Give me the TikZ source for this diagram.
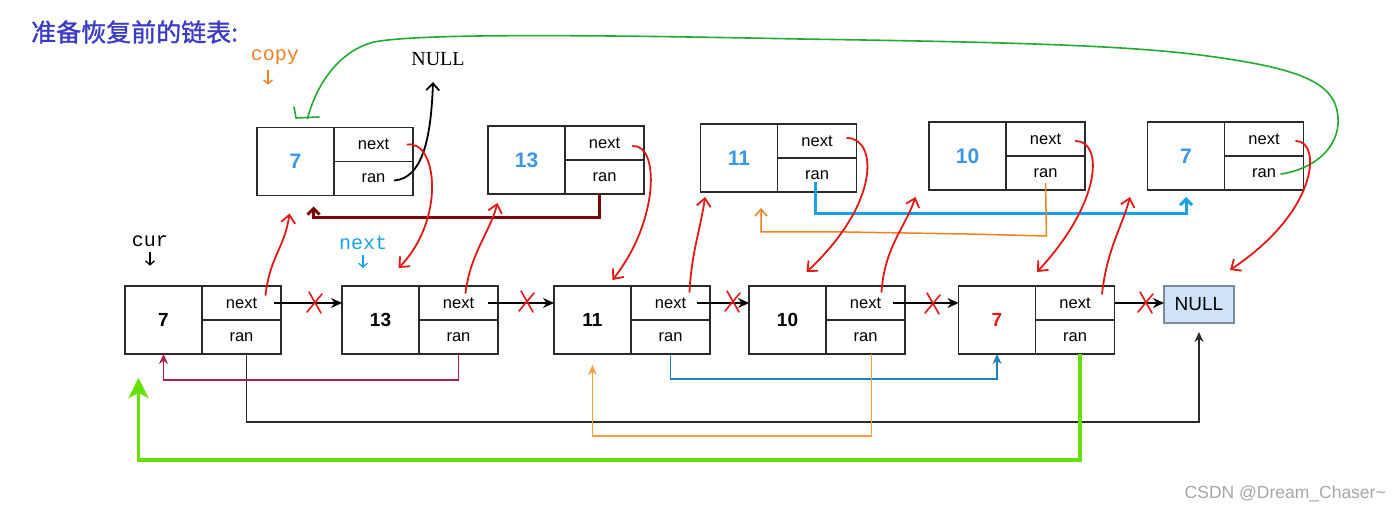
\documentclass[tikz,border=0pt]{standalone}
\usepackage{fontspec}
\setmainfont{Liberation Sans}
\newfontfamily\cjk[FakeBold=1.2]{Noto Sans CJK SC}
\newfontfamily\monof{Liberation Mono}
\newfontfamily\seriff{Liberation Serif}
\usetikzlibrary{arrows.meta,calc}
\definecolor{boxc}{HTML}{2A2A2A}
\definecolor{titleblue}{HTML}{3A3AC4}
\definecolor{valblue}{HTML}{3A96E6}
\definecolor{xred}{HTML}{E01818}
\definecolor{crimson}{HTML}{A8204C}
\definecolor{midblue}{HTML}{2080BC}
\definecolor{lorange}{HTML}{F5A040}
\definecolor{dorange}{HTML}{F08020}
\definecolor{lgreen}{HTML}{66E000}
\definecolor{dgreen}{HTML}{22AA33}
\definecolor{dred}{HTML}{7A0606}
\definecolor{cyanb}{HTML}{1AA0E6}
\definecolor{nullfill}{HTML}{CFE2F8}
\definecolor{nulldraw}{HTML}{7A8A99}
\newcommand\mklistnode[4]{%
  \node[databox,#4] (#1) at (#2) {#3};
  \node[fieldbox,anchor=north west] (#1n) at (#1.north east) {next};
  \node[fieldbox,anchor=north west] (#1r) at (#1n.south west) {ran};}
\tikzset{
  databox/.style={draw=boxc, line width=1.5pt, minimum width=77pt, minimum height=68pt,
    inner sep=0pt, outer sep=0pt, font=\fontsize{19}{19}\selectfont\bfseries},
  fieldbox/.style={draw=boxc, line width=1.5pt, minimum width=79pt, minimum height=34pt,
    inner sep=0pt, outer sep=0pt, font=\fontsize{16.5}{16.5}\selectfont},
  topval/.style={text=valblue, font=\fontsize{21}{21}\selectfont\bfseries},
  redarr/.style={draw=xred, line width=1.8pt, line cap=round, line join=round,
    -{Straight Barb[length=8pt,width=14pt]}},
  nextarr/.style={draw=black, line width=1.3pt, -{Stealth[length=11pt,width=10pt]}},
  ortho/.style={line width=1.4pt, -{Stealth[length=10pt,width=9pt]}},
  thickortho/.style={line width=3pt, -{Straight Barb[length=6pt,width=12pt]}},
  monolabel/.style={inner sep=0pt, font=\monof\fontsize{20}{20}\selectfont},
  smalldown/.style={line width=1.3pt, -{Straight Barb[length=4pt,width=9pt]}},
  xcross/.pic={\draw[xred, line width=1.6pt, line cap=round] (-6,-11) -- (6,10) (7,-9) -- (-8,9);}
}
\begin{document}
\begin{tikzpicture}[x=1pt,y=-1pt]
\useasboundingbox (0,0) rectangle (1400,513);

% title
\node[anchor=west, inner sep=0pt, text=titleblue, font=\cjk\fontsize{25}{25}\selectfont] (title) at (31,32) {准备恢复前的链表:};

% top row
\mklistnode{t1}{295.5,161.5}{7}{topval}
\mklistnode{t2}{526.5,160}{13}{topval}
\mklistnode{t3}{739,158}{11}{topval}
\mklistnode{t4}{967.5,156}{10}{topval}
\mklistnode{t5}{1186,156}{7}{topval}

% bottom row
\mklistnode{b1}{163.5,320}{7}{}
\mklistnode{b2}{380.5,320}{13}{}
\mklistnode{b3}{592.5,320}{11}{}
\mklistnode{b4}{787.5,320}{10}{}
\mklistnode{b5}{997,320}{7}{text=xred}
\node[draw=nulldraw, fill=nullfill, line width=1.4pt, minimum width=70pt, minimum height=37pt,
  inner sep=0pt, outer sep=0pt, font=\fontsize{19}{19}\selectfont] (null) at (1199,304.5) {NULL};

% labels
\node[monolabel, text=dorange] (copy) at (275,57) {copy};
\node[monolabel, text=black] (cur) at (150,241) {cur};
\node[monolabel, text=cyanb] (nextlbl) at (363,243) {next};
\node[inner sep=0pt, font=\seriff\fontsize{20}{20}\selectfont] (nulltop) at (438,59) {NULL};
\coordinate (nullup) at (433,82);

\draw[smalldown, dorange] ([xshift=-7,yshift=-5]copy.south) -- ++(0,15);
\draw[smalldown, black] ([yshift=-5]cur.south) -- ++(0,14);
\draw[smalldown, cyanb] ([yshift=-5]nextlbl.south) -- ++(0,13);

% next arrows bottom row
\draw[nextarr] ([xshift=-7]b1n.east) -- (b2.north west |- b1n.east);
\draw[nextarr] ([xshift=-10]b2n.east) -- (b3.north west |- b2n.east);
\draw[nextarr] ([xshift=-13]b3n.east) -- (b4.north west |- b3n.east);
\draw[nextarr] ([xshift=-12]b4n.east) -- (b5.north west |- b4n.east);
\draw[nextarr] (b5n.east) -- (null.west |- b5n.east);
\pic at (315,303) {xcross};
\pic at (527,302) {xcross};
\pic at (733,302) {xcross};
\pic at (933,304) {xcross};
\pic at (1146,303) {xcross};

% bottom random connectors
\draw[ortho, draw=boxc, line width=1.6pt] ([xshift=5]b1r.south) -- ++(0,68) -| ([yshift=-9]null.south);
\draw[ortho, crimson] (b2r.south) -- ++(0,26) -| (b1.south);
\draw[ortho, midblue] (b3r.south) -- ++(0,25) -| (b5.south);
\draw[ortho, lorange] ([xshift=6]b4r.south) -- ++(0,82) -| ([yshift=-11]b3.south);
\draw[lgreen, line width=3.5pt, -{Stealth[length=20pt,width=20pt,inset=5pt]}]
  ([xshift=5]b5r.south) -- ++(0,106) -| ([xshift=-25,yshift=-24]b1.south);

% top random connectors
\draw[thickortho, dred] ([xshift=-5]t2r.south) -- ++(0,24) -| ([xshift=18,yshift=-11]t1.south);
\draw[thickortho, cyanb] ([xshift=-2,yshift=-7]t3r.center) -- ++(0,32) -| ([yshift=-7]t5.south);
\draw[dorange, line width=1.5pt, line join=round, -{Straight Barb[length=7pt,width=12pt]}]
  ([yshift=-10]t4r.center) -- ++(1,53) -- ++(-80,-2) -- ++(-120,-2) -- ++(-80,0) -| ([xshift=22,yshift=-16]t3.south);
\draw[black, line width=1.8pt, line cap=round, -{Straight Barb[length=7pt,width=13pt]}]
  ([xshift=21,yshift=-2]t1r.center) .. controls (422,178) and (431,140) .. (nullup);
\draw[dgreen, line width=1.6pt, line cap=round, line join=round]
  ([xshift=17,yshift=-1]t5r.center) .. controls (1310,170) and (1340,150) .. (1338,118)
  .. controls (1336,82) and (1300,68) .. (1200,55)
  .. controls (1120,45) and (1000,42) .. (800,39)
  .. controls (600,35) and (420,33) .. (374,42)
  .. controls (335,52) and (315,90) .. ([xshift=12,yshift=9]t1.north)
  (294,107) -- (296,118) -- (319,117);

% red hand-drawn next arrows
\draw[redarr] ([xshift=34]t1n.center) .. controls +(30,-4) and +(47,-48) .. ([xshift=18,yshift=18]b2.north);
\draw[redarr] ([xshift=24,yshift=8]b1n.center) .. controls +(5,-40) and +(-5,35) .. ([xshift=-6,yshift=-18]t1.south);
\draw[redarr] ([xshift=7,yshift=10]b2n.center) .. controls +(5,-40) and +(-8,30) .. ([xshift=-29,yshift=-9]t2.south);
\draw[redarr] ([xshift=28,yshift=-3]t2n.center) .. controls +(27,-2) and +(47,-60) .. ([xshift=20,yshift=6]b3.north);
\draw[redarr] ([xshift=19,yshift=11]b3n.center) .. controls +(2,-40) and +(-4,30) .. ([xshift=-34,yshift=-5]t3.south);
\draw[redarr] ([xshift=30,yshift=3]t3n.center) .. controls +(30,0) and +(75,-70) .. ([xshift=19,yshift=14]b4.north);
\draw[redarr] ([xshift=16,yshift=11]b4n.center) .. controls +(3,-45) and +(-10,30) .. ([xshift=-52,yshift=-7]t4.south);
\draw[redarr] ([xshift=30,yshift=-2]t4n.center) .. controls +(28,0) and +(65,-70) .. ([xshift=40,yshift=14]b5.north);
\draw[redarr] ([xshift=27,yshift=9]b5n.center) .. controls +(5,-45) and +(-8,30) .. ([xshift=-56,yshift=-7]t5.south);
\draw[redarr] ([xshift=32,yshift=-2]t5n.center) .. controls +(25,0) and +(90,-60) .. ([xshift=31,yshift=16]null.north);

% watermark
\node[anchor=east, inner sep=0pt, text=black!35, font=\fontsize{17.5}{17.5}\selectfont] (wm) at (1386,494) {CSDN @Dream\_Chaser\textasciitilde};
\end{tikzpicture}
\end{document}
